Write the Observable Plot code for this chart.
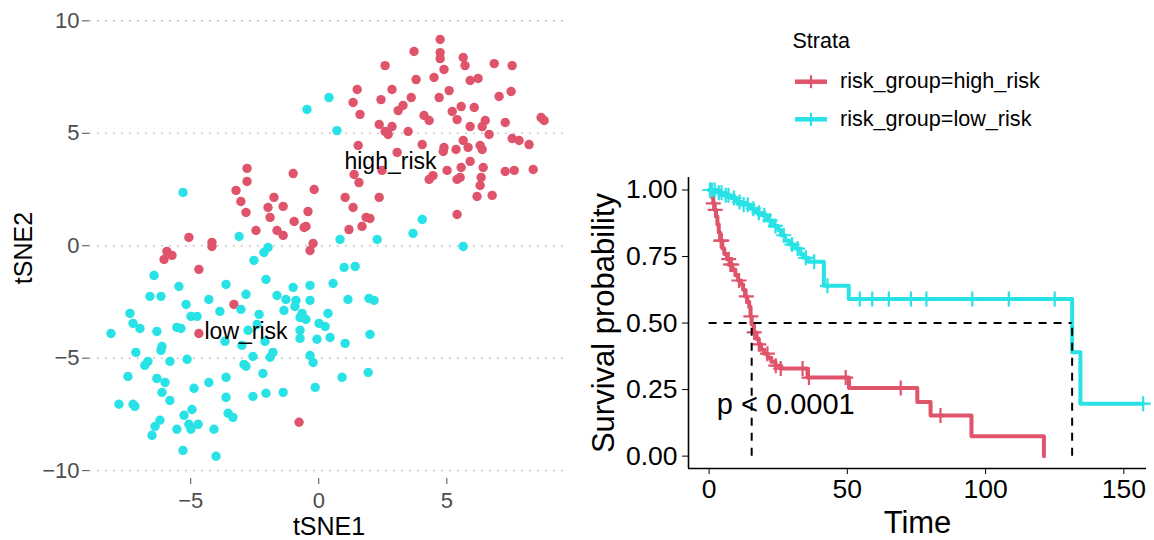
<!DOCTYPE html>
<html>
<head>
<meta charset="utf-8">
<script src="https://cdn.jsdelivr.net/npm/d3@7"></script>
<script src="https://cdn.jsdelivr.net/npm/@observablehq/plot@0.6"></script>
<style>
html, body { margin: 0; padding: 0; background: #fff; overflow: hidden; }
#wrap { position: relative; width: 1154px; height: 540px; overflow: hidden; font-family: "Liberation Sans", Arial, Helvetica, sans-serif; }
#left { position: absolute; left: 0; top: 0; }
#right { position: absolute; left: 580px; top: 0; }
#legend { position: absolute; left: 0; top: 0; }
</style>
</head>
<body>
<div id="wrap"><div id="left"></div><div id="right"></div><svg id="legend" width="1154" height="160"></svg></div>
<script>
// ---------- data: tSNE scatter ----------
const groups = ["high_risk", "low_risk"];
const groupColors = ["#DF536B", "#28E2E5"];

const highX = [-2.80,-2.80,-1.00,-3.23,-3.04,-2.84,-1.75,-1.39,-1.98,-1.90,-0.96,-2.45,-1.63,-1.39,-5.07,-4.17,-4.17,-5.93,-5.73,-6.04,-4.68,
  4.74,3.72,4.74,4.74,5.64,5.71,6.85,7.55,2.59,4.89,4.50,3.80,5.91,6.22,1.50,2.86,5.09,7.51,7.04,4.70,3.61,2.43,1.34,1.61,3.10,3.29,5.21,5.56,6.07,
  4.11,4.31,5.40,6.50,6.38,7.28,8.68,8.80,2.36,2.86,2.59,2.71,3.49,5.91,6.65,7.55,7.82,8.21,1.54,4.04,5.64,5.83,4.89,4.86,5.36,6.30,6.38,3.06,5.91,5.56,
  5.52,5.40,5.01,6.42,7.28,7.63,8.37,6.34,6.30,4.31,4.46,2.47,1.38,1.57,-0.18,6.18,6.77,1.03,2.36,1.34,-0.42,1.85,2.00,-0.50,-0.57,1.69,1.18,5.40,-0.22,-0.34,
  -3.31,-4.68,-0.77];
const highY = [3.44,2.86,3.21,2.46,1.97,1.48,2.15,1.75,1.70,1.26,1.08,0.68,0.68,0.46,0.37,0.15,-0.03,-0.25,-0.43,-0.61,-1.05,
  9.17,8.64,8.59,8.32,8.37,8.01,8.10,8.01,8.01,7.84,7.48,7.39,7.35,7.44,6.95,6.95,6.90,6.86,6.64,6.59,6.59,6.50,6.37,5.84,6.01,6.24,5.97,6.19,6.15,
  5.79,5.57,5.61,5.57,5.30,5.48,5.70,5.57,5.39,5.30,5.08,4.95,5.08,5.30,4.95,4.77,4.68,4.50,4.46,4.50,4.68,4.37,4.37,4.19,4.28,4.46,4.28,4.15,3.75,3.48,
  3.04,2.95,3.35,3.48,3.30,3.35,3.39,3.04,2.68,2.95,3.12,3.35,3.17,2.81,2.50,2.19,2.24,2.15,2.15,1.70,1.52,1.26,1.21,0.86,0.81,0.86,0.72,1.39,0.10,-0.21,
  -2.61,-3.90,-7.85];

const lowX = [-5.30,-3.11,-1.98,-2.14,-2.53,0.40,-0.46,0.71,4.04,3.68,0.83,2.28,5.64,0.99,1.42,
  -6.43,-5.46,-3.62,-2.06,-6.59,-6.16,-4.29,-2.84,-1.63,-1.28,-1.36,-1.00,-0.89,-5.18,-3.04,-3.86,-7.37,-4.99,-4.75,-2.33,
  -7.25,-6.98,-5.54,-5.38,-6.32,-8.11,-2.76,-2.41,-3.66,-2.10,-3.00,-6.12,-6.16,-7.14,-5.14,-5.81,-6.67,-6.79,-2.57,-2.92,
  -2.84,-1.79,-1.90,-2.18,-7.45,-6.32,-6.00,-3.62,-4.29,-4.87,-6.12,-1.39,-2.06,-2.57,-3.62,-5.81,-7.80,-7.25,-7.18,-4.95,
  -5.26,-3.54,-3.35,-6.20,-6.39,-6.51,-5.54,-5.07,-4.99,-4.71,-4.09,-5.30,-4.01,
  -0.34,0.56,-0.34,1.14,1.96,2.16,-0.93,-0.65,-0.73,-0.50,0.36,0.01,0.25,-0.73,-0.73,-0.07,0.44,1.03,2.00,-0.34,-0.22,1.93,0.91,-0.14];
const lowY = [2.37,0.41,-0.08,-0.30,-0.65,6.59,6.06,5.12,1.17,0.55,0.28,0.28,-0.03,-0.96,-0.92,
  -1.32,-1.81,-1.72,-1.50,-2.25,-2.25,-2.39,-2.16,-2.21,-2.39,-2.88,-1.85,-2.43,-2.61,-2.83,-2.92,-3.01,-3.14,-3.14,-3.05,
  -3.45,-3.68,-3.63,-3.68,-3.81,-3.90,-3.76,-3.50,-4.25,-4.25,-4.43,-4.48,-4.65,-4.74,-5.05,-5.14,-5.14,-5.32,-4.92,-5.28,
  -5.36,-4.74,-4.96,-5.68,-5.81,-5.90,-6.08,-5.85,-6.08,-6.34,-6.52,-6.52,-6.56,-6.70,-6.74,-6.88,-7.05,-7.05,-7.14,-7.28,
  -7.54,-7.45,-7.63,-7.76,-8.03,-8.43,-8.16,-7.94,-8.16,-7.94,-8.16,-9.10,-9.36,
  -1.76,-1.68,-2.43,-2.39,-2.34,-2.43,-2.70,-3.01,-3.19,-3.28,-3.01,-3.45,-3.59,-3.76,-4.12,-4.16,-4.08,-4.34,-3.94,-4.88,-5.19,-5.63,-5.85,-6.30];

const clusterLabels = ["high_risk", "low_risk"];
const clusterLabelX = [2.80, -2.84];
const clusterLabelY = [3.75, -3.80];
const tsneXTicks = [-5, 0, 5];
const tsneYTicks = [-10, -5, 0, 5, 10];

// ---------- data: Kaplan-Meier ----------
const strata = ["risk_group=high_risk", "risk_group=low_risk"];
const highTime = [0,0.8,1.5,2,2.5,3,3.5,4,4.8,5.5,6.5,7.5,8.5,9.5,10.5,11.5,12.3,13,13.8,14.5,15.0,15.4,16.2,17.2,18,18.8,20,21.2,22.5,24,25.9,35.6,50.6,75.3,80.1,94.9,121.1];
const highSurv = [1,0.975,0.95,0.925,0.9,0.87,0.84,0.81,0.78,0.76,0.74,0.72,0.70,0.68,0.66,0.645,0.625,0.60,0.58,0.56,0.525,0.495,0.465,0.44,0.42,0.40,0.385,0.37,0.355,0.34,0.329,0.295,0.256,0.203,0.153,0.075,0];
const lowTime = [0,3,5,8,10,12,15,17,19,21,23,25,26,27.5,29,31,33,34,36,41.5,50.5,131.3,134.3,157];
const lowSurv = [1,0.99,0.98,0.97,0.955,0.945,0.93,0.915,0.905,0.885,0.865,0.85,0.83,0.81,0.795,0.78,0.76,0.745,0.73,0.64,0.59,0.39,0.197,0.197];
const highCensorTime = [1.5,2.2,4.2,4.6,7.1,7.7,8.2,10.8,13.5,15.1,16.3,18,21.1,24.1,25.9,33.8,36.1,49.4,69.3,83.7];
const lowCensorTime = [0.3,1,2,3.5,4.5,6,7,9,11,12.5,14,16,18,20,22,24,27,30,32,35,38,42.8,54.5,59,65,73,78.6,95.2,108.4,125,157];
const medianTime = [15.4, 131.3];
const medianSurv = 0.5;
const pValueText = "p < 0.0001";
const timeTicks = [0, 50, 100, 150];
const survTicks = [0, 0.25, 0.5, 0.75, 1];

// ---------- build tables ----------
const FONT = '"Liberation Sans", Arial, Helvetica, sans-serif';
const points = [
  ...highX.map((x, i) => ({x, y: highY[i], group: groups[0]})),
  ...lowX.map((x, i) => ({x, y: lowY[i], group: groups[1]}))
];
const labelRows = clusterLabels.map((t, i) => ({t, x: clusterLabelX[i], y: clusterLabelY[i]}));
const minusFmt = d => d < 0 ? "\u2212" + Math.abs(d) : String(d);

const left = Plot.plot({
  width: 580, height: 540,
  marginLeft: 89, marginRight: 12, marginTop: 17, marginBottom: 62,
  style: {fontFamily: FONT, fontSize: "22px", color: "#4d4d4d", background: "transparent", overflow: "visible"},
  x: {domain: [-8.95, 9.75], ticks: tsneXTicks, tickFormat: minusFmt, tickSize: 6, tickPadding: 8, label: null},
  y: {domain: [-10.35, 10.15], ticks: tsneYTicks, tickFormat: minusFmt, tickSize: 7, tickPadding: 3, label: null},
  color: {domain: groups, range: groupColors},
  marks: [
    Plot.ruleY(tsneYTicks, {stroke: "#bdbdbd", strokeWidth: 1.6, strokeDasharray: "1.6,6.4"}),
    Plot.dot(points, {x: "x", y: "y", fill: "group", r: 4.7}),
    Plot.text(labelRows, {x: "x", y: "y", text: "t", fill: "black", fontSize: 23}),
    Plot.text(["tSNE1"], {text: d => d, frameAnchor: "bottom", lineAnchor: "middle", textAnchor: "middle", dy: 48, fill: "black", fontSize: 25}),
    Plot.text(["tSNE2"], {text: d => d, frameAnchor: "left", lineAnchor: "middle", textAnchor: "middle", dx: -66, rotate: -90, fill: "black", fontSize: 25})
  ]
});
document.getElementById("left").appendChild(left);

function survAt(T, S, t) {
  let s = S[0];
  for (let i = 0; i < T.length; i++) if (T[i] <= t) s = S[i];
  return s;
}
const kmRows = [
  ...highTime.map((t, i) => ({time: t, surv: highSurv[i], strata: strata[0]})),
  ...lowTime.map((t, i) => ({time: t, surv: lowSurv[i], strata: strata[1]}))
];
const censorRows = [
  ...highCensorTime.map(t => ({time: t, surv: survAt(highTime, highSurv, t), strata: strata[0]})),
  ...lowCensorTime.map(t => ({time: t, surv: survAt(lowTime, lowSurv, t), strata: strata[1]}))
];
const plusSymbol = {
  draw(ctx, size) {
    const r = Math.sqrt(size / Math.PI);
    ctx.moveTo(-r, 0); ctx.lineTo(r, 0);
    ctx.moveTo(0, -r); ctx.lineTo(0, r);
  }
};
const xDom = [-7.45, 158.2];
const yDom = [-0.0465, 1.047];
const right = Plot.plot({
  width: 574, height: 540,
  marginLeft: 108, marginRight: 8, marginTop: 177, marginBottom: 72,
  style: {fontFamily: FONT, fontSize: "26.5px", color: "black", background: "transparent", overflow: "visible"},
  x: {domain: xDom, ticks: timeTicks, tickSize: 6, tickPadding: 5, label: null},
  y: {domain: yDom, ticks: survTicks, tickFormat: d3.format(".2f"), tickSize: 6, tickPadding: 5, label: null},
  color: {domain: strata, range: groupColors},
  marks: [
    Plot.ruleX([xDom[0]], {stroke: "black", strokeWidth: 1.6}),
    Plot.ruleY([yDom[0]], {stroke: "black", strokeWidth: 1.6}),
    Plot.line(kmRows, {x: "time", y: "surv", z: "strata", stroke: "strata", curve: "step-after", strokeWidth: 4}),
    Plot.dot(censorRows, {x: "time", y: "surv", stroke: "strata", fill: "none", symbol: plusSymbol, r: 7.5, strokeWidth: 2.2}),
    Plot.ruleY([medianSurv], {x1: 0, x2: d3.max(medianTime), stroke: "black", strokeWidth: 2, strokeDasharray: "8,7"}),
    Plot.ruleX(medianTime, {y1: 0, y2: medianSurv, stroke: "black", strokeWidth: 2, strokeDasharray: "8,7"}),
    Plot.text([pValueText], {text: d => d, x: 2.8, y: 0.192, textAnchor: "start", lineAnchor: "middle", fill: "black", fontSize: 29}),
    Plot.text(["Time"], {text: d => d, frameAnchor: "bottom", lineAnchor: "middle", textAnchor: "middle", dy: 55, fill: "black", fontSize: 31}),
    Plot.text(["Survival probability"], {text: d => d, frameAnchor: "left", lineAnchor: "middle", textAnchor: "middle", dx: -84, rotate: -90, fill: "black", fontSize: 31})
  ]
});
document.getElementById("right").appendChild(right);

// ---------- legend ----------
const leg = d3.select("#legend").style("font-family", FONT);
leg.append("text").attr("x", 792.5).attr("y", 48.3).attr("font-size", 21.5).attr("fill", "black").text("Strata");
strata.forEach((s, i) => {
  const cy = 81.7 + i * 37.6;
  leg.append("line").attr("x1", 795).attr("x2", 827).attr("y1", cy).attr("y2", cy)
    .attr("stroke", groupColors[i]).attr("stroke-width", 4.5);
  leg.append("line").attr("x1", 811).attr("x2", 811).attr("y1", cy - 6.5).attr("y2", cy + 6.5)
    .attr("stroke", groupColors[i]).attr("stroke-width", 2.2);
  leg.append("text").attr("x", 840).attr("y", cy + 6.6).attr("font-size", 21.6).attr("fill", "black").text(s);
});
</script>
</body>
</html>
